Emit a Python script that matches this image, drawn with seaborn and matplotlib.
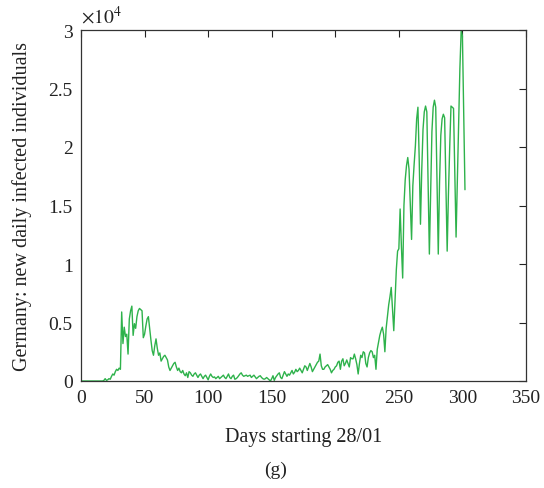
import matplotlib
matplotlib.use("Agg")
import matplotlib.pyplot as plt
import seaborn as sns
import pandas as pd
from matplotlib.ticker import FormatStrFormatter

# New daily infected individuals in Germany, in units of 10^4, day 0 = 28/01
new_cases_1e4 = [
    0.0, 0.0, 0.0, 0.0, 0.0, 0.0, 0.0, 0.0, 0.0, 0.0,                  # 0-9
    0.0, 0.0, 0.0, 0.0, 0.0, 0.0, 0.0, 0.0, 0.005, 0.02,               # 10-19
    0.005, 0.01, 0.02, 0.015, 0.04, 0.06, 0.05, 0.08, 0.10, 0.09,      # 20-29
    0.11, 0.10, 0.59, 0.32, 0.46, 0.38, 0.40, 0.23, 0.53, 0.60,        # 30-39
    0.64, 0.39, 0.49, 0.45, 0.55, 0.60, 0.62, 0.61, 0.60, 0.37,        # 40-49
    0.40, 0.47, 0.53, 0.55, 0.45, 0.35, 0.26, 0.22, 0.30, 0.36,        # 50-59
    0.28, 0.22, 0.24, 0.17, 0.19, 0.21, 0.22, 0.20, 0.18, 0.12,        # 60-69
    0.09, 0.11, 0.13, 0.15, 0.16, 0.12, 0.09, 0.11, 0.08, 0.07,        # 70-79
    0.09, 0.06, 0.045, 0.07, 0.03, 0.08, 0.07, 0.05, 0.04, 0.06,       # 80-89
    0.07, 0.05, 0.03, 0.05, 0.06, 0.04, 0.02, 0.04, 0.05, 0.03,        # 90-99
    0.01, 0.04, 0.06, 0.04, 0.03, 0.035, 0.02, 0.03, 0.04, 0.02,       # 100-109
    0.03, 0.04, 0.05, 0.03, 0.02, 0.04, 0.06, 0.03, 0.02, 0.04,        # 110-119
    0.05, 0.015, 0.02, 0.03, 0.045, 0.06, 0.07, 0.05, 0.04, 0.045,     # 120-129
    0.05, 0.04, 0.045, 0.05, 0.03, 0.04, 0.05, 0.035, 0.02, 0.03,      # 130-139
    0.04, 0.045, 0.03, 0.02, 0.015, 0.02, 0.03, 0.02, 0.01, 0.0,       # 140-149
    0.02, 0.045, 0.005, 0.03, 0.045, 0.06, 0.07, 0.03, 0.02, 0.05,     # 150-159
    0.08, 0.06, 0.04, 0.06, 0.05, 0.07, 0.09, 0.06, 0.075, 0.10,       # 160-169
    0.08, 0.09, 0.11, 0.09, 0.07, 0.10, 0.13, 0.12, 0.09, 0.12,        # 170-179
    0.15, 0.12, 0.08, 0.10, 0.12, 0.14, 0.16, 0.17, 0.23, 0.13,        # 180-189
    0.10, 0.10, 0.12, 0.13, 0.14, 0.12, 0.10, 0.07, 0.09, 0.10,        # 190-199
    0.12, 0.13, 0.16, 0.17, 0.10, 0.17, 0.19, 0.13, 0.15, 0.18,        # 200-209
    0.15, 0.12, 0.20, 0.19, 0.19, 0.23, 0.19, 0.14, 0.06, 0.15,        # 210-219
    0.22, 0.20, 0.25, 0.24, 0.15, 0.12, 0.20, 0.24, 0.26, 0.25,        # 220-229
    0.20, 0.22, 0.10, 0.27, 0.33, 0.39, 0.43, 0.46, 0.40, 0.25,        # 230-239
    0.45, 0.55, 0.65, 0.72, 0.80, 0.62, 0.43, 0.70, 0.95, 1.11,        # 240-249
    1.13, 1.47, 1.15, 0.88, 1.50, 1.72, 1.84, 1.91, 1.81, 1.50,        # 250-259
    1.21, 1.67, 1.85, 2.01, 2.24, 2.34, 1.90, 1.34, 1.80, 2.15,        # 260-269
    2.30, 2.35, 2.30, 1.70, 1.085, 1.60, 2.13, 2.34, 2.40, 2.34,       # 270-279
    1.70, 1.085, 1.70, 2.10, 2.24, 2.28, 2.25, 1.70, 1.11, 1.60,       # 280-289
    2.00, 2.35, 2.34, 2.33, 1.80, 1.23, 1.70, 2.20, 2.67, 2.99,        # 290-299
    2.95, 2.30, 1.635,                                                 # 300-302
]
days = list(range(len(new_cases_1e4)))

x_ticks = [0, 50, 100, 150, 200, 250, 300, 350]
y_ticks = [0, 0.5, 1, 1.5, 2, 2.5, 3]

sns.set_style("white")
plt.rcParams["font.family"] = ["Liberation Serif", "DejaVu Serif"]
plt.rcParams["mathtext.fontset"] = "stix"

df = pd.DataFrame({"day": days, "cases": new_cases_1e4})

fig = plt.figure(figsize=(5.44, 4.89), dpi=100)
ax = fig.add_axes([81 / 544, 1 - 382 / 489, 445 / 544, 351 / 489])

sns.lineplot(data=df, x="day", y="cases", ax=ax, color="#2eb24b", linewidth=1.0)

ax.set_xlim(0, 350)
ax.set_ylim(0, 3)
ax.set_xticks(x_ticks)
ax.set_yticks(y_ticks)
ax.yaxis.set_major_formatter(FormatStrFormatter("%g"))
ax.tick_params(direction="in", length=5, width=0.8, top=True, right=True,
               labelsize=14, colors="#222222", pad=6)
for s in ax.spines.values():
    s.set_color("#333333")
    s.set_linewidth(0.9)

ax.set_xlabel("Days starting 28/01", fontsize=14.5, labelpad=15, color="#222222")
ax.set_ylabel("Germany: new daily infected individuals", fontsize=14.5,
              labelpad=12, color="#222222")

ax.text(0.0, 1.01, r"$\times10^4$", transform=ax.transAxes, fontsize=14,
        ha="left", va="bottom", color="#222222")
fig.text(276 / 544, 1 - 470 / 489, "(g)", fontsize=14, ha="center",
         va="center", color="#222222")

fig.savefig("out.png", dpi=100)
